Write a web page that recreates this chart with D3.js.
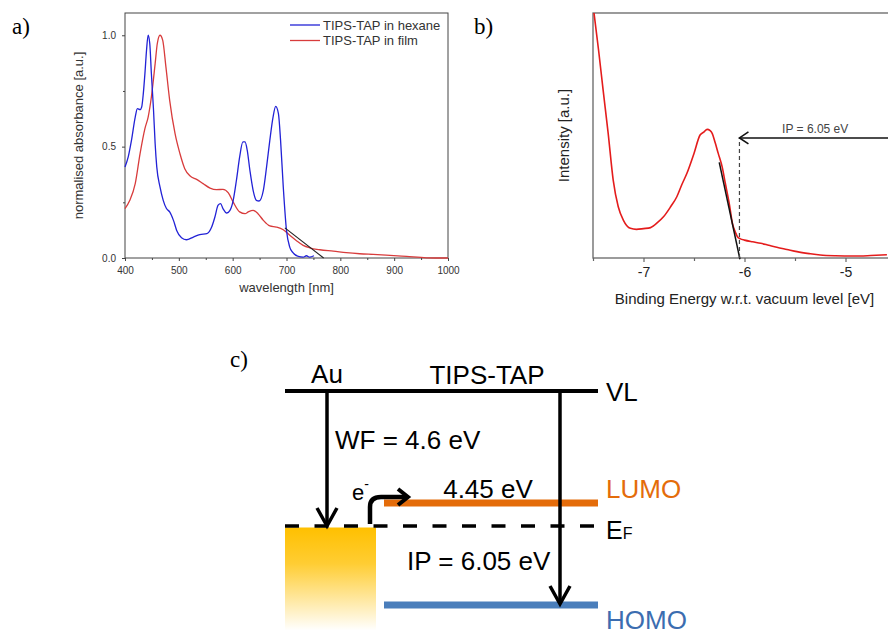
<!DOCTYPE html>
<html>
<head>
<meta charset="utf-8">
<script src="https://cdn.jsdelivr.net/npm/d3@7"></script>
<style>
  body { margin: 0; background: #fff; }
  svg text { font-family: "Liberation Sans", Arial, sans-serif; }
  .plab { font-family: "Liberation Serif", "Times New Roman", serif !important; font-size: 23px; }
</style>
</head>
<body>
<svg id="fig" width="888" height="634"></svg>
<script>
// ---- panel a: UV-vis absorbance ----
const hexaneWl  = [400, 406, 412, 419, 423, 428, 431, 434, 437, 440, 443, 446, 449, 453, 456, 459, 465, 471, 477, 483, 490, 496, 505, 514, 527, 539, 552, 561, 567, 573, 577.5, 582, 589, 595, 601, 607, 613, 619, 623, 627, 632, 638, 644, 649, 657, 663, 669, 675, 680, 685, 689, 694, 700, 706, 712, 722, 731, 737, 743, 751];
const hexaneAbs = [0.409, 0.454, 0.528, 0.633, 0.671, 0.666, 0.678, 0.738, 0.828, 0.933, 1.0, 0.963, 0.828, 0.663, 0.513, 0.409, 0.319, 0.259, 0.222, 0.207, 0.169, 0.124, 0.091, 0.082, 0.094, 0.105, 0.109, 0.139, 0.184, 0.237, 0.244, 0.222, 0.202, 0.214, 0.259, 0.349, 0.454, 0.521, 0.521, 0.484, 0.394, 0.304, 0.259, 0.256, 0.304, 0.409, 0.528, 0.633, 0.681, 0.648, 0.528, 0.319, 0.124, 0.049, 0.024, 0.007, 0.004, 0.010, 0.004, 0.010];
const filmWl  = [400, 409, 419, 428, 437, 443, 449, 456, 460, 465, 470, 476, 483, 493, 502, 511, 521, 533, 545, 558, 570, 582, 592, 601, 613, 623, 629, 638, 647, 657, 669, 681, 694, 706, 718, 731, 743, 762, 787, 811, 836, 861, 885, 923, 960, 1000];
const filmAbs = [0.222, 0.259, 0.334, 0.469, 0.581, 0.633, 0.723, 0.873, 0.963, 1.0, 0.978, 0.858, 0.708, 0.558, 0.469, 0.401, 0.368, 0.353, 0.334, 0.314, 0.307, 0.308, 0.292, 0.251, 0.207, 0.199, 0.207, 0.214, 0.199, 0.169, 0.144, 0.139, 0.127, 0.102, 0.079, 0.057, 0.046, 0.037, 0.031, 0.024, 0.019, 0.016, 0.013, 0.007, 0.001, 0.0];
const onsetWl  = [697, 769];
const onsetAbs = [0.135, 0.0];
const wlTicks  = [400, 500, 600, 700, 800, 900, 1000];
const absTicks = [0.0, 0.5, 1.0];
const legendNames = ['TIPS-TAP in hexane', 'TIPS-TAP in film'];

// ---- panel b: UPS spectrum ----
const upsEnergy    = [-7.49, -7.445, -7.40, -7.35, -7.30, -7.25, -7.20, -7.13, -7.07, -7.00, -6.93, -6.86, -6.80, -6.73, -6.67, -6.62, -6.57, -6.50, -6.44, -6.40, -6.37, -6.34, -6.32, -6.29, -6.26, -6.22, -6.19, -6.15, -6.12, -6.09, -6.07, -6.04, -6.00, -5.92, -5.84, -5.76, -5.68, -5.58, -5.48, -5.36, -5.25, -5.10, -4.92, -4.75, -4.59];
const upsIntensity = [1.0, 0.849, 0.686, 0.51, 0.318, 0.209, 0.155, 0.121, 0.117, 0.120, 0.124, 0.145, 0.169, 0.21, 0.25, 0.30, 0.346, 0.427, 0.502, 0.515, 0.525, 0.52, 0.509, 0.47, 0.427, 0.37, 0.305, 0.22, 0.142, 0.105, 0.087, 0.078, 0.073, 0.066, 0.06, 0.052, 0.044, 0.035, 0.026, 0.018, 0.012, 0.009, 0.008, 0.010, 0.013];
const tangentE = [-6.25, -6.045];
const tangentI = [0.39, -0.005];
const ipOnset  = -6.05;
const eTicks   = [-7, -6, -5];
const eMinor   = [-7.5, -6.5, -5.5];

// ---- panel c: energy level diagram ----
const wf = 4.6, ea = 4.45, ip = 6.05;

const svg = d3.select('#fig');

// ================= panel a =================
const xA = d3.scaleLinear().domain([400, 1000]).range([125, 448]);
const yA = d3.scaleLinear().domain([0, 1.1]).range([258, 13]);
const gA = svg.append('g');

gA.append('rect')
  .attr('x', xA(400)).attr('y', yA(1.1))
  .attr('width', xA(1000) - xA(400)).attr('height', yA(0) - yA(1.1))
  .attr('fill', 'none').attr('stroke', '#444').attr('stroke-width', 1);

gA.append('g').attr('transform', 'translate(0,' + yA(0) + ')')
  .call(d3.axisBottom(xA).tickValues(wlTicks).tickSize(3).tickPadding(6).tickFormat(d3.format('d')));
gA.append('g').attr('transform', 'translate(0,' + yA(0) + ')')
  .call(d3.axisBottom(xA).tickValues(d3.range(450, 1000, 100)).tickSize(2).tickFormat(''));
gA.append('g').attr('transform', 'translate(' + xA(400) + ',0)')
  .call(d3.axisLeft(yA).tickValues(absTicks).tickSize(3).tickPadding(6).tickFormat(d3.format('.1f')));
gA.append('g').attr('transform', 'translate(' + xA(400) + ',0)')
  .call(d3.axisLeft(yA).tickValues([0.25, 0.75]).tickSize(2).tickFormat(''));
gA.selectAll('.domain').remove();
gA.selectAll('.tick line').attr('stroke', '#444');
gA.selectAll('.tick text').attr('font-size', 10).attr('fill', '#333')
  .style('font-family', '"Liberation Sans", Arial, sans-serif');

gA.append('text').attr('x', (xA(400) + xA(1000)) / 2).attr('y', 292)
  .attr('text-anchor', 'middle').attr('font-size', 13).attr('fill', '#333')
  .text('wavelength [nm]');
gA.append('text').attr('transform', 'translate(83,' + ((yA(0) + yA(1.1)) / 2) + ') rotate(-90)')
  .attr('text-anchor', 'middle').attr('font-size', 13).attr('fill', '#333')
  .text('normalised absorbance [a.u.]');

const lineA = d3.line().x(d => xA(d[0])).y(d => yA(d[1])).curve(d3.curveMonotoneX);
gA.append('path').datum(d3.zip(filmWl, filmAbs)).attr('d', lineA)
  .attr('fill', 'none').attr('stroke', '#d83c3c').attr('stroke-width', 1.3);
gA.append('path').datum(d3.zip(hexaneWl, hexaneAbs)).attr('d', lineA)
  .attr('fill', 'none').attr('stroke', '#2222d6').attr('stroke-width', 1.3);
gA.append('path').datum(d3.zip(onsetWl, onsetAbs)).attr('d', d3.line().x(d => xA(d[0])).y(d => yA(d[1])))
  .attr('fill', 'none').attr('stroke', '#222').attr('stroke-width', 1.1);

const legColors = ['#2222d6', '#d83c3c'];
legendNames.forEach((name, i) => {
  const y = 25 + i * 15.5;
  gA.append('line').attr('x1', 290).attr('x2', 320).attr('y1', y).attr('y2', y)
    .attr('stroke', legColors[i]).attr('stroke-width', 1.3);
  gA.append('text').attr('x', 323).attr('y', y + 4.5).attr('font-size', 13).attr('fill', '#333').text(name);
});

svg.append('text').attr('class', 'plab').attr('x', 12).attr('y', 34).text('a)');

// ================= panel b =================
const xB = d3.scaleLinear().domain([-7.5, -4.5]).range([593, 896]);
const yB = d3.scaleLinear().domain([0, 1]).range([258, 13]);
const gB = svg.append('g');

gB.append('rect')
  .attr('x', xB(-7.5)).attr('y', yB(1))
  .attr('width', xB(-4.5) - xB(-7.5)).attr('height', yB(0) - yB(1))
  .attr('fill', 'none').attr('stroke', '#666').attr('stroke-width', 1.3);

gB.append('g').attr('transform', 'translate(0,' + yB(0) + ')')
  .call(d3.axisBottom(xB).tickValues(eTicks).tickSize(4).tickPadding(5).tickFormat(d => String(d)));
gB.append('g').attr('transform', 'translate(0,' + yB(0) + ')')
  .call(d3.axisBottom(xB).tickValues(eMinor).tickSize(3).tickFormat(''));
gB.selectAll('.domain').remove();
gB.selectAll('.tick line').attr('stroke', '#666').attr('stroke-width', 1.2);
gB.selectAll('.tick text').attr('font-size', 14).attr('fill', '#222')
  .style('font-family', '"Liberation Sans", Arial, sans-serif');

gB.append('text').attr('x', (xB(-7.5) + xB(-4.5)) / 2).attr('y', 304)
  .attr('text-anchor', 'middle').attr('font-size', 15).attr('fill', '#222')
  .text('Binding Energy w.r.t. vacuum level [eV]');
gB.append('text').attr('transform', 'translate(569,' + ((yB(0) + yB(1)) / 2) + ') rotate(-90)')
  .attr('text-anchor', 'middle').attr('font-size', 15).attr('fill', '#222')
  .text('Intensity [a.u.]');

const lineB = d3.line().x(d => xB(d[0])).y(d => yB(d[1]));
gB.append('path').datum(d3.zip(upsEnergy, upsIntensity)).attr('d', lineB.curve(d3.curveMonotoneX))
  .attr('fill', 'none').attr('stroke', '#e41c1c').attr('stroke-width', 1.6);
gB.append('path').datum(d3.zip(tangentE, tangentI)).attr('d', d3.line().x(d => xB(d[0])).y(d => yB(d[1])))
  .attr('fill', 'none').attr('stroke', '#111').attr('stroke-width', 1.5);

// IP annotation
const ipLevel = 0.49;
gB.append('line').attr('x1', xB(ipOnset)).attr('x2', xB(ipOnset)).attr('y1', yB(0)).attr('y2', yB(ipLevel))
  .attr('stroke', '#444').attr('stroke-width', 1.2).attr('stroke-dasharray', '4,3');
gB.append('line').attr('x1', xB(ipOnset)).attr('x2', 900).attr('y1', yB(ipLevel)).attr('y2', yB(ipLevel))
  .attr('stroke', '#111').attr('stroke-width', 1.4);
gB.append('path')
  .attr('d', 'M' + (xB(ipOnset) + 9) + ',' + (yB(ipLevel) - 6) + 'L' + xB(ipOnset) + ',' + yB(ipLevel) + 'L' + (xB(ipOnset) + 9) + ',' + (yB(ipLevel) + 6))
  .attr('fill', 'none').attr('stroke', '#111').attr('stroke-width', 1.6);
gB.append('text').attr('x', xB(-5.3)).attr('y', yB(ipLevel) - 5)
  .attr('text-anchor', 'middle').attr('font-size', 12).attr('fill', '#444')
  .text('IP = ' + Math.abs(ipOnset).toFixed(2) + ' eV');

svg.append('text').attr('class', 'plab').attr('x', 474).attr('y', 34).text('b)');

// ================= panel c =================
const gC = svg.append('g');
const xL = 285, xR = 598, xMol = 384, xAuR = 376;
const yLevel = d3.scaleOrdinal().domain(['VL', 'LUMO', 'EF', 'HOMO']).range([391, 503, 526, 605]);

const defs = svg.append('defs');
const grad = defs.append('linearGradient').attr('id', 'gold').attr('x1', 0).attr('x2', 0).attr('y1', 0).attr('y2', 1);
grad.append('stop').attr('offset', '0%').attr('stop-color', '#ffc000');
grad.append('stop').attr('offset', '35%').attr('stop-color', '#ffcd33');
grad.append('stop').attr('offset', '100%').attr('stop-color', '#ffffff');

gC.append('rect').attr('x', xL).attr('y', yLevel('EF') + 1.5)
  .attr('width', xAuR - xL).attr('height', 103).attr('fill', 'url(#gold)');

gC.append('line').attr('x1', xL).attr('x2', xR).attr('y1', yLevel('VL')).attr('y2', yLevel('VL'))
  .attr('stroke', '#000').attr('stroke-width', 4);
gC.append('line').attr('x1', xL).attr('x2', xR).attr('y1', yLevel('EF')).attr('y2', yLevel('EF'))
  .attr('stroke', '#000').attr('stroke-width', 3.5).attr('stroke-dasharray', '14,15.5');
gC.append('line').attr('x1', xMol).attr('x2', xR).attr('y1', yLevel('LUMO')).attr('y2', yLevel('LUMO'))
  .attr('stroke', '#e46c0a').attr('stroke-width', 7);
gC.append('line').attr('x1', xMol).attr('x2', xR).attr('y1', yLevel('HOMO')).attr('y2', yLevel('HOMO'))
  .attr('stroke', '#4a7ebb').attr('stroke-width', 7);

function downArrow(x, y0, y1) {
  gC.append('line').attr('x1', x).attr('x2', x).attr('y1', y0).attr('y2', y1 - 2)
    .attr('stroke', '#000').attr('stroke-width', 3.5);
  gC.append('path').attr('d', 'M' + (x - 10) + ',' + (y1 - 18) + 'L' + x + ',' + y1 + 'L' + (x + 10) + ',' + (y1 - 18))
    .attr('fill', 'none').attr('stroke', '#000').attr('stroke-width', 3.5).attr('stroke-linejoin', 'miter');
}
downArrow(327, yLevel('VL'), yLevel('EF'));
downArrow(560, yLevel('VL'), yLevel('HOMO') - 1);

// electron transfer arrow
gC.append('path').attr('d', 'M370,' + (yLevel('EF') - 2) + 'L370,507Q370,497 381,497L406,497')
  .attr('fill', 'none').attr('stroke', '#000').attr('stroke-width', 4.5);
gC.append('path').attr('d', 'M398,489L408,497L398,505')
  .attr('fill', 'none').attr('stroke', '#000').attr('stroke-width', 4);

const big = 26;
gC.append('text').attr('x', 327).attr('y', 383).attr('text-anchor', 'middle').attr('font-size', big).text('Au');
gC.append('text').attr('x', 487).attr('y', 384).attr('text-anchor', 'middle').attr('font-size', big).text('TIPS-TAP');
gC.append('text').attr('x', 606).attr('y', 401).attr('font-size', big).text('VL');
gC.append('text').attr('x', 335).attr('y', 449).attr('font-size', big).text('WF = ' + wf + ' eV');
gC.append('text').attr('x', 488).attr('y', 498).attr('text-anchor', 'middle').attr('font-size', big).text(ea.toFixed(2) + ' eV');
gC.append('text').attr('x', 606).attr('y', 498).attr('font-size', big).attr('fill', '#e46c0a').text('LUMO');
const ef = gC.append('text').attr('x', 606).attr('y', 539).attr('font-size', 25);
ef.append('tspan').text('E');
ef.append('tspan').attr('font-size', 16).text('F');
gC.append('text').attr('x', 407).attr('y', 570).attr('font-size', big).text('IP = ' + ip.toFixed(2) + ' eV');
gC.append('text').attr('x', 606).attr('y', 629).attr('font-size', big).attr('fill', '#3c6db0').text('HOMO');
const em = gC.append('text').attr('x', 352).attr('y', 500).attr('font-size', 22);
em.append('tspan').text('e');
em.append('tspan').attr('dy', -11).attr('font-size', 14).text('-');

svg.append('text').attr('class', 'plab').attr('x', 230).attr('y', 367).text('c)');
</script>
</body>
</html>
